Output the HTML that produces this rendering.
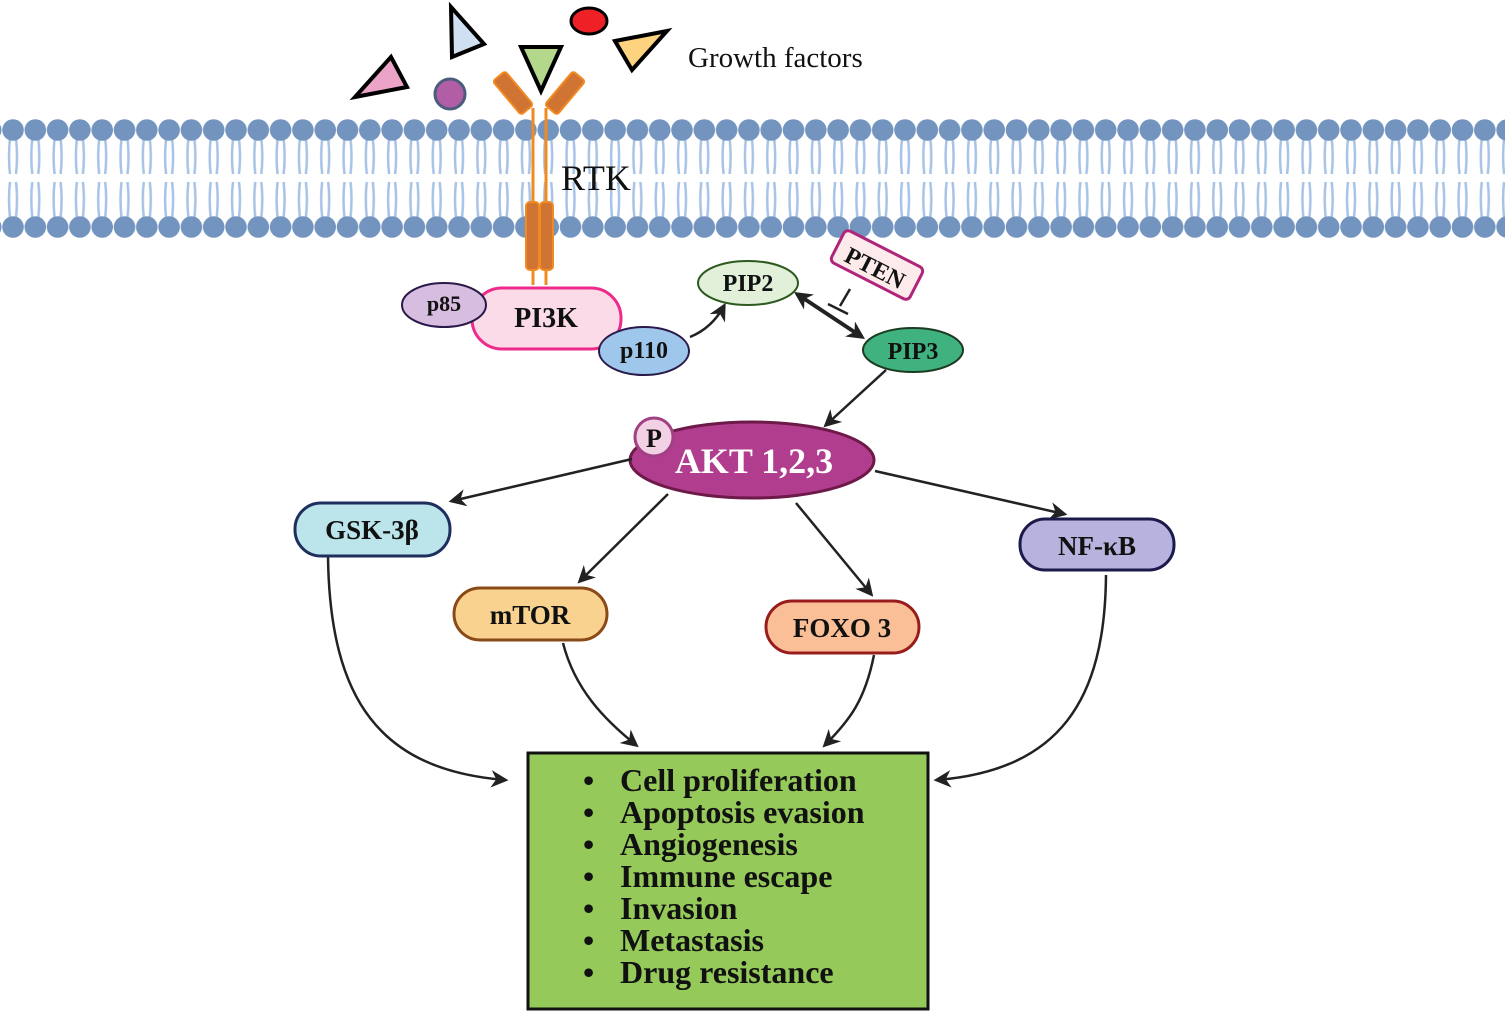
<!DOCTYPE html>
<html><head><meta charset="utf-8"><style>
html,body{margin:0;padding:0;background:#fff;width:1505px;height:1014px;overflow:hidden}
text{font-family:"Liberation Serif",serif;font-weight:bold;fill:#111}
</style></head><body>
<svg width="1505" height="1014" viewBox="0 0 1505 1014" xmlns="http://www.w3.org/2000/svg">
<defs>
<pattern id="mem" x="2" y="0" width="22.3" height="1014" patternUnits="userSpaceOnUse">
 <g fill="none" stroke="#a7c3e6" stroke-width="2.5">
  <path d="M8 138 Q6 158 8 174"/><path d="M14 138 Q16 158 14 174"/>
  <path d="M8 218 Q6 198 8 182"/><path d="M14 218 Q16 198 14 182"/>
 </g>
 <circle cx="11" cy="130" r="10.8" fill="#7394bf"/>
 <circle cx="11" cy="227" r="10.8" fill="#7394bf"/>
</pattern>
<marker id="ah" viewBox="0 0 10 10" refX="8" refY="5" markerWidth="7" markerHeight="7" orient="auto-start-reverse"><path d="M0 0 L10 5 L0 10 L3 5z" fill="#222"/></marker>
<marker id="ah2" viewBox="0 0 10 10" refX="8" refY="5" markerWidth="4.5" markerHeight="4.5" orient="auto-start-reverse"><path d="M0 0 L10 5 L0 10 L3 5z" fill="#222"/></marker>
</defs>
<rect x="0" y="110" width="1505" height="130" fill="url(#mem)"/>

<polygon points="355,97 407,87 391,57" fill="#eba4c8" stroke="#000" stroke-width="4"/>
<polygon points="451,7 452,57 484,44" fill="#d0dff2" stroke="#000" stroke-width="4"/>
<circle cx="450" cy="94" r="15" fill="#b15ea6" stroke="#4b5d7a" stroke-width="3"/>
<polygon points="521,47 561,47 541,91" fill="#b3d78b" stroke="#000" stroke-width="4"/>
<ellipse cx="589" cy="21" rx="18" ry="13" fill="#ee2126" stroke="#000" stroke-width="3"/>
<polygon points="615,41 667,31 632,70" fill="#fdd37f" stroke="#000" stroke-width="4"/>
<text x="688" y="67" font-size="29" style="font-weight:normal">Growth factors</text>

<g stroke="#f28a22" stroke-width="3" fill="none">
 <line x1="533" y1="108" x2="533" y2="285"/><line x1="546" y1="108" x2="546" y2="285"/>
</g>
<rect x="505" y="71" width="16" height="44" rx="3" fill="#d07433" stroke="#f28a22" stroke-width="2" transform="rotate(-40 513 93)"/>
<rect x="557" y="71" width="16" height="44" rx="3" fill="#d07433" stroke="#f28a22" stroke-width="2" transform="rotate(40 565 93)"/>
<rect x="526" y="202" width="13" height="68" rx="4" fill="#d07433" stroke="#f28a22" stroke-width="2"/>
<rect x="540" y="202" width="13" height="68" rx="4" fill="#d07433" stroke="#f28a22" stroke-width="2"/>
<text x="561" y="190" font-size="36" style="font-weight:normal">RTK</text>

<rect x="472" y="288" width="149" height="61" rx="30" fill="#fbdbe8" stroke="#ee2b8b" stroke-width="3"/>
<text x="546" y="327" font-size="28" text-anchor="middle">PI3K</text>
<ellipse cx="444" cy="305" rx="42" ry="22" fill="#d7bddf" stroke="#2a1a4a" stroke-width="2"/>
<text x="444" y="311" font-size="22" text-anchor="middle">p85</text>
<ellipse cx="644" cy="351" rx="45" ry="24" fill="#9fc7ec" stroke="#2a1a4a" stroke-width="2"/>
<text x="644" y="358" font-size="24" text-anchor="middle">p110</text>
<path d="M690 337 Q712 328 724 306" fill="none" stroke="#222" stroke-width="2.5" marker-end="url(#ah)"/>

<ellipse cx="748" cy="283" rx="50" ry="22" fill="#e2efd9" stroke="#2c5a1e" stroke-width="2"/>
<text x="748" y="291" font-size="24" text-anchor="middle">PIP2</text>
<rect x="833" y="247" width="88" height="36" rx="5" fill="#fdebec" stroke="#b0257a" stroke-width="3" transform="rotate(27 877 265)"/>
<text x="875" y="276" font-size="24" text-anchor="middle" transform="rotate(27 875 268)">PTEN</text>
<line x1="850" y1="289" x2="840" y2="306" stroke="#222" stroke-width="2.5"/>
<line x1="828" y1="304" x2="848" y2="314" stroke="#222" stroke-width="2.5"/>
<line x1="797" y1="294" x2="862" y2="337" stroke="#222" stroke-width="4" marker-start="url(#ah2)" marker-end="url(#ah2)"/>
<ellipse cx="913" cy="350" rx="50" ry="22" fill="#3fb27f" stroke="#1b3b22" stroke-width="2"/>
<text x="913" y="359" font-size="24" text-anchor="middle">PIP3</text>
<line x1="886" y1="370" x2="826" y2="425" stroke="#222" stroke-width="2.5" marker-end="url(#ah)"/>

<ellipse cx="752" cy="460" rx="122" ry="38" fill="#b03d8d" stroke="#6d1a48" stroke-width="3"/>
<text x="754" y="473" font-size="36" text-anchor="middle" style="fill:#fff">AKT 1,2,3</text>
<circle cx="654" cy="437" r="19" fill="#f3d1e5" stroke="#a04184" stroke-width="3"/>
<text x="654" y="447" font-size="26" text-anchor="middle">P</text>

<g stroke="#222" stroke-width="2.5" fill="none" marker-end="url(#ah)">
<line x1="632" y1="459" x2="452" y2="501"/>
<line x1="668" y1="494" x2="580" y2="581"/>
<line x1="796" y1="503" x2="871" y2="594"/>
<line x1="875" y1="471" x2="1064" y2="514"/>
<path d="M328 557 C330 700 380 770 505 780"/>
<path d="M563 643 C575 690 605 720 636 745"/>
<path d="M874 655 C865 700 850 720 825 745"/>
<path d="M1106 575 C1105 700 1060 770 937 780"/>
</g>

<rect x="295" y="503" width="155" height="53" rx="26" fill="#bbe5ea" stroke="#1e2f5e" stroke-width="3"/>
<text x="372" y="539" font-size="27" text-anchor="middle">GSK-3β</text>
<rect x="454" y="588" width="153" height="52" rx="26" fill="#f8d28e" stroke="#8a4a18" stroke-width="3"/>
<text x="530" y="624" font-size="27" text-anchor="middle">mTOR</text>
<rect x="766" y="601" width="153" height="52" rx="26" fill="#fbbf98" stroke="#981c1c" stroke-width="3"/>
<text x="842" y="637" font-size="27" text-anchor="middle">FOXO 3</text>
<rect x="1020" y="519" width="154" height="51" rx="25" fill="#b7b3de" stroke="#1c1a4a" stroke-width="3"/>
<text x="1097" y="555" font-size="27" text-anchor="middle">NF-κB</text>

<rect x="528" y="753" width="400" height="256" fill="#95c95a" stroke="#111" stroke-width="3"/>
<g font-size="32">
<text x="583" y="791">•</text><text x="620" y="791">Cell proliferation</text>
<text x="583" y="823">•</text><text x="620" y="823">Apoptosis evasion</text>
<text x="583" y="855">•</text><text x="620" y="855">Angiogenesis</text>
<text x="583" y="887">•</text><text x="620" y="887">Immune escape</text>
<text x="583" y="919">•</text><text x="620" y="919">Invasion</text>
<text x="583" y="951">•</text><text x="620" y="951">Metastasis</text>
<text x="583" y="983">•</text><text x="620" y="983">Drug resistance</text>
</g>
</svg>
</body></html>
